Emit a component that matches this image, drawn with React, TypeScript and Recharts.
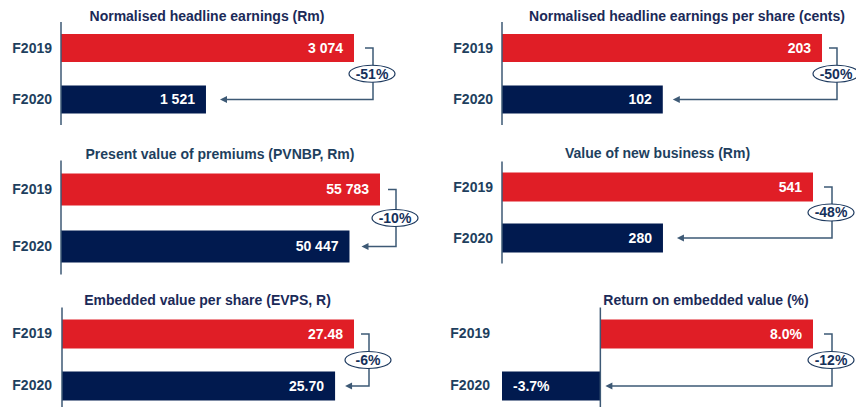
import React from 'react';
import { BarChart, Bar, XAxis, YAxis, Cell, LabelList, ReferenceLine } from 'recharts';

const years = ['F2019', 'F2020'];
const headlineEarnings = [3074, 1521];
const headlineEps = [203, 102];
const pvnbp = [55783, 50447];
const valueNewBusiness = [541, 280];
const evps = [27.48, 25.7];
const roev = [8.0, -3.7];
const titles = [
  'Normalised headline earnings (Rm)',
  'Normalised headline earnings per share (cents)',
  'Present value of premiums (PVNBP, Rm)',
  'Value of new business (Rm)',
  'Embedded value per share (EVPS, R)',
  'Return on embedded value (%)',
];
const changeLabels = ['-51%', '-50%', '-10%', '-48%', '-6%', '-12%'];
const barColors = ['#E01E26', '#011A4F'];

const FONT = '"Liberation Sans", Arial, Helvetica, sans-serif';
const NAVY_TEXT = '#1B2A58';
const TEAL_TEXT = '#1E3F5E';
const LINE = '#3D5975';
const ELLIPSE = '#1E3A5F';

const thousands = (v: number) => Math.round(v).toString().replace(/\B(?=(\d{3})+(?!\d))/g, ' ');
const integer = (v: number) => Math.round(v).toString();
const twoDec = (v: number) => v.toFixed(2);
const pct1 = (v: number) => v.toFixed(1) + '%';

type Layout = {
  svgLeft: number; svgTop: number; svgW: number; svgH: number;
  plotLeft: number; plotRight: number; plotTop: number; plotBottom: number;
  barSize: number; bracketDx: number; arrowGap: number; tickMargin: number;
  titleX: number; titleBase: number; titleColor: string;
};

type PanelDef = { values: number[]; title: string; change: string; fmt: (v: number) => string; layout: Layout };

const panels: PanelDef[] = [
  {
    values: headlineEarnings, title: titles[0], change: changeLabels[0], fmt: thousands,
    layout: { svgLeft: 0, svgTop: 0, svgW: 430, svgH: 135, plotLeft: 61, plotRight: 354, plotTop: 22, plotBottom: 125, barSize: 28, bracketDx: 19, arrowGap: 14, tickMargin: 9, titleX: 207, titleBase: 20.5, titleColor: NAVY_TEXT },
  },
  {
    values: headlineEps, title: titles[1], change: changeLabels[1], fmt: integer,
    layout: { svgLeft: 430, svgTop: 0, svgW: 426, svgH: 135, plotLeft: 502, plotRight: 822, plotTop: 22, plotBottom: 125, barSize: 28, bracketDx: 15, arrowGap: 10, tickMargin: 9, titleX: 687, titleBase: 20.5, titleColor: NAVY_TEXT },
  },
  {
    values: pvnbp, title: titles[2], change: changeLabels[2], fmt: thousands,
    layout: { svgLeft: 0, svgTop: 135, svgW: 430, svgH: 140, plotLeft: 61, plotRight: 380, plotTop: 160.5, plotBottom: 274.5, barSize: 32, bracketDx: 16, arrowGap: 12, tickMargin: 9, titleX: 220, titleBase: 159, titleColor: TEAL_TEXT },
  },
  {
    values: valueNewBusiness, title: titles[3], change: changeLabels[3], fmt: integer,
    layout: { svgLeft: 430, svgTop: 135, svgW: 426, svgH: 135, plotLeft: 502, plotRight: 813, plotTop: 161.5, plotBottom: 263.5, barSize: 29, bracketDx: 19, arrowGap: 14, tickMargin: 9, titleX: 657.5, titleBase: 157.7, titleColor: TEAL_TEXT },
  },
  {
    values: evps, title: titles[4], change: changeLabels[4], fmt: twoDec,
    layout: { svgLeft: 0, svgTop: 270, svgW: 430, svgH: 142, plotLeft: 62, plotRight: 354, plotTop: 307.5, plotBottom: 411.5, barSize: 29, bracketDx: 15, arrowGap: 10, tickMargin: 10, titleX: 207.5, titleBase: 305, titleColor: NAVY_TEXT },
  },
  {
    values: roev, title: titles[5], change: changeLabels[5], fmt: pct1,
    layout: { svgLeft: 430, svgTop: 270, svgW: 426, svgH: 142, plotLeft: 502, plotRight: 813, plotTop: 307.5, plotBottom: 411.5, barSize: 29, bracketDx: 19, arrowGap: 5, tickMargin: 12, titleX: 706, titleBase: 305, titleColor: NAVY_TEXT },
  },
];

function Panel({ p }: { p: PanelDef }) {
  const L = p.layout;
  const data = years.map((name, i) => ({ name, value: p.values[i] }));
  const lo = Math.min(0, ...p.values);
  const hi = Math.max(0, ...p.values);
  const yAxisW = 50;
  const margin = {
    top: L.plotTop - L.svgTop,
    bottom: L.svgTop + L.svgH - L.plotBottom,
    left: L.plotLeft - L.svgLeft - yAxisW,
    right: L.svgLeft + L.svgW - L.plotRight,
  };
  const band = (L.plotBottom - L.plotTop) / data.length;

  const renderLabel = (props: any) => {
    const vb = props.viewBox || {};
    const x = Number(props.x ?? vb.x);
    const y = Number(props.y ?? vb.y);
    const w = Number(props.width ?? vb.width);
    const h = Number(props.height ?? vb.height);
    let idx = props.index;
    if (idx === undefined || idx === null) idx = p.values.indexOf(Number(props.value));
    const v = p.values[idx];
    const left = Math.min(x, x + w);
    const right = Math.max(x, x + w);
    const cy = y + h / 2;
    const label = (
      <text
        x={v < 0 ? left + 11 : right - 11}
        y={cy}
        dy="0.355em"
        textAnchor={v < 0 ? 'start' : 'end'}
        fill="#FFFFFF"
        fontSize={14}
        fontWeight={700}
        fontFamily={FONT}
      >
        {p.fmt(v)}
      </text>
    );
    if (idx !== data.length - 1) return <g>{label}</g>;
    const ppu = Math.abs(w) / Math.abs(v);
    const zeroX = v < 0 ? right : left;
    const prev = p.values[0];
    const prevRight = Math.max(zeroX, zeroX + prev * ppu);
    const y0 = cy - band;
    const y1 = cy;
    const vx = prevRight + L.bracketDx;
    const tip = right + L.arrowGap;
    const my = (y0 + y1) / 2;
    return (
      <g>
        {label}
        <polyline
          points={`${vx - 8},${y0} ${vx},${y0} ${vx},${y1} ${tip + 5},${y1}`}
          fill="none"
          stroke={LINE}
          strokeWidth={1.5}
        />
        <polygon points={`${tip},${y1} ${tip + 7},${y1 - 3.5} ${tip + 7},${y1 + 3.5}`} fill={LINE} />
        <ellipse cx={vx - 1} cy={my} rx={23} ry={8.5} fill="#FFFFFF" stroke={ELLIPSE} strokeWidth={1.2} />
        <text x={vx - 1} y={my} dy="0.355em" textAnchor="middle" fill="#15305A" fontSize={14} fontWeight={700} fontFamily={FONT}>
          {p.change}
        </text>
      </g>
    );
  };

  return (
    <div style={{ position: 'absolute', left: L.svgLeft, top: L.svgTop, width: L.svgW, height: L.svgH }}>
      <div
        style={{
          position: 'absolute',
          left: L.titleX - L.svgLeft - 250,
          width: 500,
          top: L.titleBase - L.svgTop - 11.85,
          textAlign: 'center',
          fontSize: 14,
          lineHeight: '14px',
          fontWeight: 700,
          color: L.titleColor,
          fontFamily: FONT,
          whiteSpace: 'nowrap',
        }}
      >
        {p.title}
      </div>
      <BarChart width={L.svgW} height={L.svgH} data={data} layout="vertical" margin={margin} barSize={L.barSize} style={{ fontFamily: FONT, overflow: 'visible' }}>
        <XAxis type="number" hide domain={[lo, hi]} allowDataOverflow />
        <YAxis
          type="category"
          dataKey="name"
          width={yAxisW}
          axisLine={false}
          tickLine={false}
          tickSize={0}
          tickMargin={L.tickMargin}
          tick={{ fill: TEAL_TEXT, fontSize: 14, fontWeight: 700, fontFamily: FONT }}
        />
        <ReferenceLine x={0} stroke={LINE} strokeWidth={1.5} />
        <Bar dataKey="value" isAnimationActive={false}>
          {data.map((d, i) => (
            <Cell key={d.name} fill={barColors[i]} />
          ))}
          <LabelList dataKey="value" content={renderLabel} />
        </Bar>
      </BarChart>
    </div>
  );
}

export default function App() {
  return (
    <div
      style={{
        position: 'absolute',
        left: 0,
        top: 0,
        width: 856,
        height: 407,
        overflow: 'hidden',
        background: '#FFFFFF',
        fontFamily: FONT,
      }}
    >
      {panels.map((p, i) => (
        <Panel key={i} p={p} />
      ))}
    </div>
  );
}
